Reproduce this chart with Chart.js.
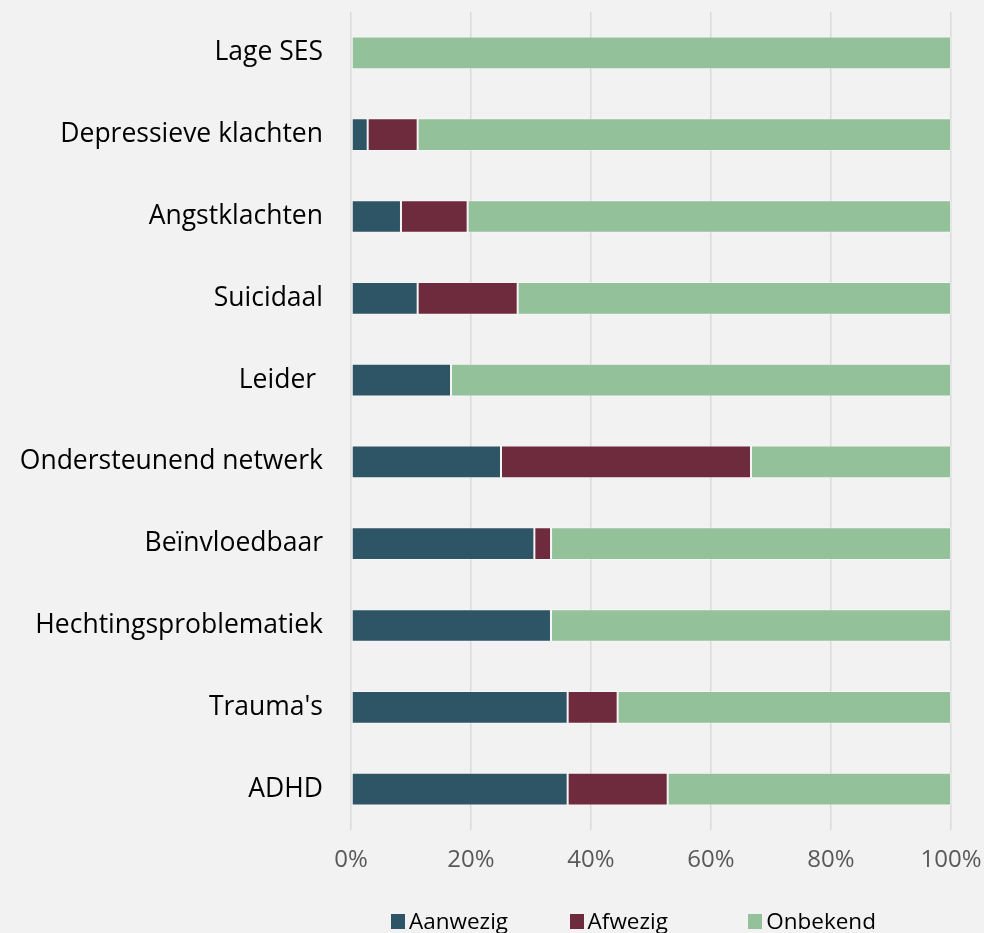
<!DOCTYPE html>
<html>
<head>
<meta charset="utf-8">
<script src="https://cdn.jsdelivr.net/npm/chart.js@4/dist/chart.umd.min.js"></script>
<style>
  html, body { margin: 0; padding: 0; background: #f2f2f2; }
  #wrap { position: relative; width: 984px; height: 933px; overflow: hidden; }
  #legend { position: absolute; left: 391px; top: 906px; display: flex; font-family: "Open Sans", sans-serif; font-size: 22.5px; color: #000; }
  #legend .item { width: 178.6px; display: flex; align-items: center; white-space: nowrap; line-height: 30px; }
  #legend .box { width: 14px; height: 15px; margin-right: 4px; flex: none; }
</style>
</head>
<body>
<div id="wrap">
  <canvas id="chart" width="984" height="933"></canvas>
  <div id="legend"></div>
</div>
<script>
// categorieën (van boven naar beneden)
const categories = ['Lage SES', 'Depressieve klachten', 'Angstklachten', 'Suicidaal', 'Leider ',
    'Ondersteunend netwerk', 'Beïnvloedbaar', 'Hechtingsproblematiek', "Trauma's", 'ADHD'];

// percentages per reeks
const aanwezig = [0, 2.78, 8.33, 11.11, 16.67, 25.00, 30.56, 33.33, 36.11, 36.11];
const afwezig  = [0, 8.33, 11.11, 16.67, 0, 41.67, 2.78, 0, 8.33, 16.67];
const onbekend = [100, 88.89, 80.56, 72.22, 83.33, 33.33, 66.67, 66.67, 55.56, 47.22];

const seriesNames = ['Aanwezig', 'Afwezig', 'Onbekend'];
const seriesColors = ['#2e5565', '#6e2b3e', '#93c19a'];
const xTicks = [0, 20, 40, 60, 80, 100];

const seriesData = [aanwezig, afwezig, onbekend];

const ctx = document.getElementById('chart').getContext('2d');
const chart = new Chart(ctx, {
    type: 'bar',
    data: {
        labels: categories,
        datasets: seriesNames.map((name, i) => ({
            label: name,
            data: seriesData[i],
            backgroundColor: seriesColors[i],
            borderColor: 'rgba(255,255,255,0.35)',
            borderWidth: 1,
            borderSkipped: false,
            barPercentage: 0.4,
            categoryPercentage: 1
        }))
    },
    options: {
        indexAxis: 'y',
        responsive: false,
        animation: false,
        layout: { padding: { top: 12, right: 33, left: 0, bottom: 0 } },
        scales: {
            x: {
                stacked: true,
                min: 0,
                max: 100,
                afterBuildTicks: (axis) => { axis.ticks = xTicks.map(v => ({ value: v })); },
                afterFit: (axis) => {
                    axis.height = 103;
                    axis.paddingLeft = 0;
                    axis.paddingRight = 0;
                },
                grid: { color: '#d9d9d9', lineWidth: 1.5, drawTicks: false },
                border: { display: false },
                ticks: {
                    padding: 16,
                    color: '#595959',
                    font: { family: 'Open Sans', size: 24 },
                    callback: (v) => v + '%'
                }
            },
            y: {
                stacked: true,
                afterFit: (axis) => {
                    axis.width = 351;
                    axis.paddingTop = 0;
                    axis.paddingBottom = 0;
                },
                grid: { display: false, drawTicks: false },
                border: { display: false },
                ticks: {
                    padding: 28,
                    color: '#000',
                    font: { family: 'Open Sans', size: 26.5 }
                }
            }
        },
        plugins: {
            legend: { display: false },
            tooltip: { enabled: false }
        }
    }
});

// legenda onderaan
const legendDiv = document.getElementById('legend');
seriesNames.forEach((name, i) => {
    legendDiv.innerHTML += `<div class="item"><span class="box" style="background:${seriesColors[i]}"></span>${name}</div>`;
});
</script>
</body>
</html>
